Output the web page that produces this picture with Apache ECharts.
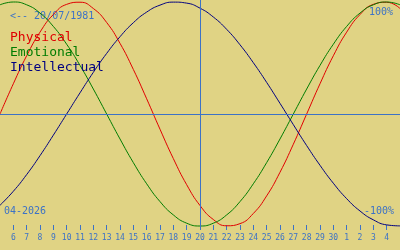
<!DOCTYPE html>
<html><head><meta charset="utf-8">
<script src="https://cdn.jsdelivr.net/npm/echarts@6/dist/echarts.min.js"></script>
<style>html,body{margin:0;padding:0;background:#e0d384}#c{width:400px;height:250px}</style>
</head><body><div id="c"></div>
<script>
// days: April 5 .. May 5 2026 (31 = May 1)
const days = [5,6,7,8,9,10,11,12,13,14,15,16,17,18,19,20,21,22,23,24,25,26,27,28,29,30,31,32,33,34,35];
const physical = [0,0.27,0.52,0.731,0.888,0.979,0.998,0.942,0.817,0.631,0.398,0.136,-0.136,-0.398,-0.631,-0.817,-0.942,-0.998,-0.979,-0.888,-0.731,-0.52,-0.27,0,0.27,0.52,0.731,0.888,0.979,0.998,0.942];
const emotional = [0.975,1,0.975,0.901,0.782,0.623,0.434,0.223,0,-0.223,-0.434,-0.623,-0.782,-0.901,-0.975,-1,-0.975,-0.901,-0.782,-0.623,-0.434,-0.223,0,0.223,0.434,0.623,0.782,0.901,0.975,1,0.975];
const intellectual = [-0.815,-0.69,-0.541,-0.372,-0.189,0,0.189,0.372,0.541,0.69,0.815,0.91,0.972,0.999,0.99,0.945,0.866,0.756,0.618,0.458,0.282,0.095,-0.095,-0.282,-0.458,-0.618,-0.756,-0.866,-0.945,-0.99,-0.999];
const seriesNames = ['Physical','Emotional','Intellectual'];
const seriesColors = ['#e00000','#007c00','#000080'];
const today = 20;
const birthText = '<-- 20/07/1981';
const monthText = '04-2026';
const topText = '100%';
const bottomText = '-100%';

const axisBlue = '#3c72c6';
const mono = 'DejaVu Sans Mono';
const chart = echarts.init(document.getElementById('c'));
const datasets = [physical, emotional, intellectual];
const series = datasets.map((arr, i) => ({
  name: seriesNames[i], type: 'line', smooth: true, showSymbol: false, silent: true,
  data: days.map((d, j) => [d, arr[j]]),
  lineStyle: { color: seriesColors[i], width: 1 }, itemStyle: { color: seriesColors[i] },
  markLine: i === 0 ? {
    silent: true, symbol: 'none', label: { show: false },
    lineStyle: { color: axisBlue, width: 1, type: 'solid' },
    data: [{ xAxis: today }, { yAxis: 0 }]
  } : undefined
}));
chart.setOption({
  backgroundColor: '#e0d384',
  animation: false,
  grid: { left: 0, right: 0, top: 0, bottom: 20 },
  xAxis: {
    type: 'value', min: 5, max: 35, interval: 1,
    axisLine: { show: false, onZero: false },
    splitLine: { show: false },
    axisTick: { show: true, inside: true, length: 5, lineStyle: { color: axisBlue } },
    axisLabel: { color: axisBlue, fontFamily: mono, fontSize: 8, margin: 4,
      showMinLabel: false, showMaxLabel: false,
      formatter: v => String(v > 30 ? v - 30 : v) }
  },
  yAxis: { type: 'value', min: -1.03571, max: 1.01786, show: false },
  legend: {
    orient: 'vertical', left: 0, top: 26, icon: 'none', itemWidth: 0, itemGap: 1.5,
    textStyle: { fontFamily: mono, fontSize: 13 },
    data: seriesNames.map((n, i) => ({ name: n, textStyle: { color: seriesColors[i] } })),
    selectedMode: false
  },
  graphic: [
    { type: 'text', left: 10, top: 11, style: { text: birthText, fill: axisBlue, font: '10px "DejaVu Sans Mono"' } },
    { type: 'text', right: 7, top: 7, style: { text: topText, fill: axisBlue, font: '10px "DejaVu Sans Mono"' } },
    { type: 'text', right: 6, top: 206, style: { text: bottomText, fill: axisBlue, font: '10px "DejaVu Sans Mono"' } },
    { type: 'text', left: 4, top: 206, style: { text: monthText, fill: axisBlue, font: '10px "DejaVu Sans Mono"' } }
  ],
  series
});
</script></body></html>
